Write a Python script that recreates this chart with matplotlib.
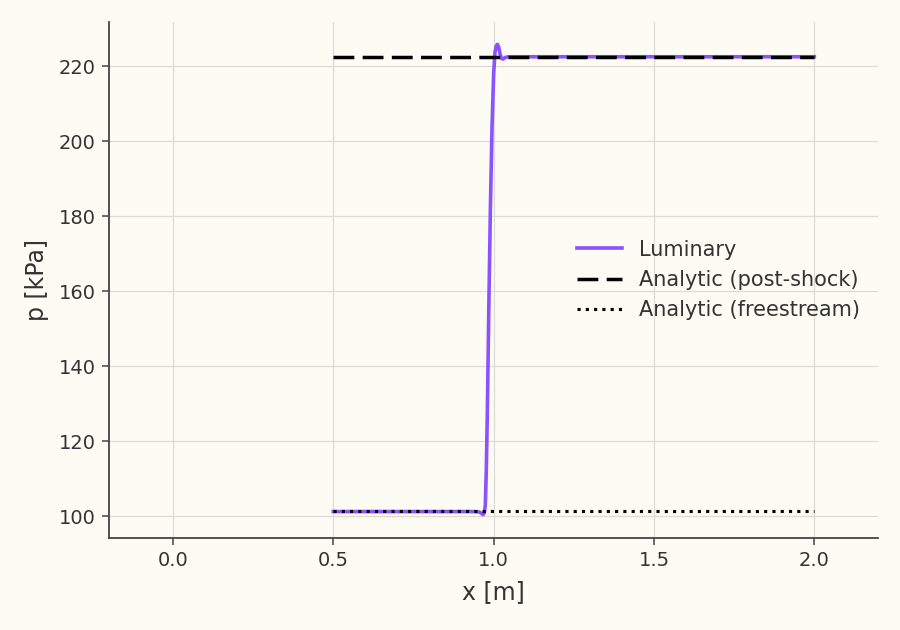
import matplotlib
matplotlib.use("Agg")
import matplotlib.pyplot as plt

# Numerical (Luminary) pressure profile across the shock
x_lum = [0.50, 0.94, 0.955, 0.962, 0.967, 0.971, 0.974, 0.977, 0.980, 0.985, 0.990,
         0.995, 1.000, 1.004, 1.008, 1.012, 1.016, 1.020, 1.025, 1.030, 1.036, 1.045, 2.00]
p_lum = [101.3, 101.3, 101.2, 100.8, 100.5, 100.9, 103.0, 112.0, 126.0, 156.0, 183.0,
         204.0, 218.0, 223.5, 225.4, 225.8, 225.0, 223.2, 222.0, 221.9, 222.3, 222.5, 222.5]

# Analytic levels
x_an = [0.5, 2.0]
p_post = [222.5, 222.5]
p_free = [101.325, 101.325]

xticks = [0.0, 0.5, 1.0, 1.5, 2.0]
yticks = [100, 120, 140, 160, 180, 200, 220]

bg = "#fcfbf4"
plt.rcParams['font.family'] = ['DejaVu Sans']

fig = plt.figure(figsize=(9, 6.3), dpi=100, facecolor=bg)
ax = fig.add_axes([0.121, 0.146, 0.855, 0.819], facecolor=bg)

ax.plot(x_lum, p_lum, color="#8c52ff", lw=2.6, label="Luminary", zorder=2)
ax.plot(x_an, p_post, color="black", lw=2.5, dashes=(6, 2.4), label="Analytic (post-shock)", zorder=3)
ax.plot(x_an, p_free, color="black", lw=2.25, linestyle=":", label="Analytic (freestream)", zorder=3)

ax.set_xlim(-0.2, 2.2)
ax.set_ylim(94.25, 231.75)
ax.set_xticks(xticks)
ax.set_yticks(yticks)
ax.set_xticklabels([f"{v:.1f}" for v in xticks])

ax.grid(True, color="#dcdbd5", lw=0.9)
ax.set_axisbelow(True)
for s in ("top", "right"):
    ax.spines[s].set_visible(False)
for s in ("left", "bottom"):
    ax.spines[s].set_color("#444444")
    ax.spines[s].set_linewidth(1.3)
ax.tick_params(colors="#444444", labelcolor="#333333", labelsize=14, length=5, width=1.1, pad=4.5)

ax.set_xlabel("x [m]", fontsize=17, color="#333333", labelpad=7)
ax.set_ylabel("p [kPa]", fontsize=17, color="#333333", labelpad=7)

leg = ax.legend(loc="center right", frameon=False, fontsize=15, handlelength=2.15)
for t in leg.get_texts():
    t.set_color("#333333")

fig.savefig("out.png", dpi=100, facecolor=bg)
